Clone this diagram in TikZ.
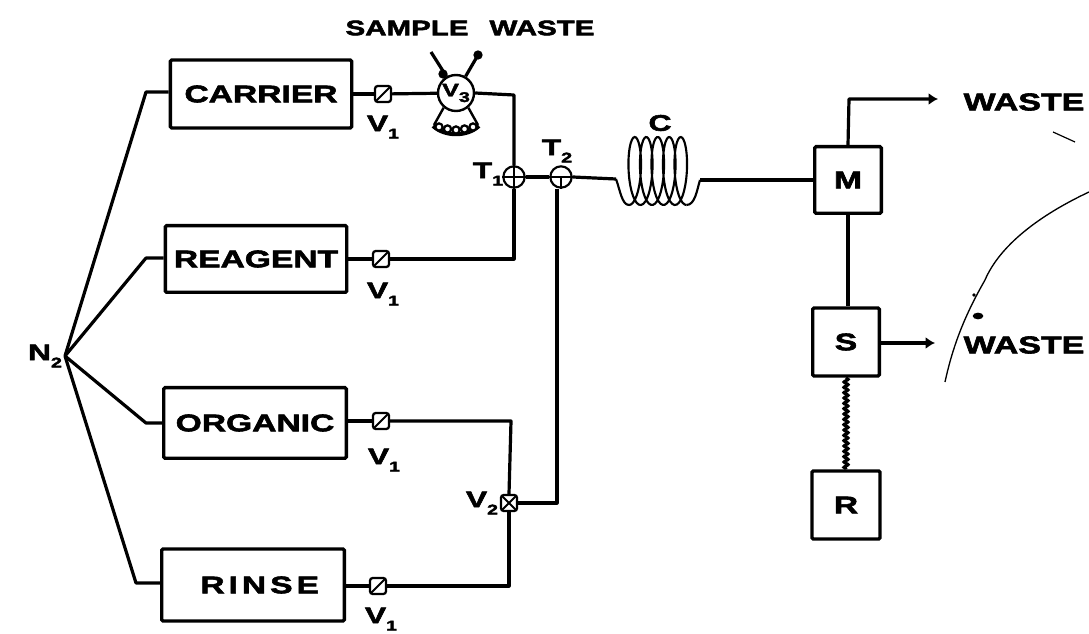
\documentclass[tikz,border=0pt]{standalone}
\usepackage{fontspec}
\setmainfont[FakeStretch=1.4,BoldFont={Liberation Sans Bold},BoldFeatures={FakeStretch=1.4,FakeBold=2.5}]{Liberation Sans}
\usetikzlibrary{decorations.pathmorphing,arrows.meta,calc}
\tikzset{
  line/.style={line width=2.4pt,line join=round},
  box/.style={draw,line width=2.5pt,rounded corners=1pt,minimum width=#1,inner sep=0pt,font=\bfseries\fontsize{18}{19}\selectfont},
  lab/.style={font=\bfseries\fontsize{17}{18}\selectfont,inner sep=0pt},
  toplab/.style={font=\bfseries\fontsize{15.8}{17}\selectfont,inner sep=0pt},
  bigl/.style={font=\bfseries\fontsize{18.2}{19}\selectfont,inner sep=0pt},
  valveone/.style={draw,fill=white,line width=1.7pt,rounded corners=2pt,minimum size=12pt,inner sep=0pt,
    path picture={\draw[line width=1.5pt](path picture bounding box.south west)--(path picture bounding box.north east);}},
  valvetwo/.style={draw,fill=white,line width=1.7pt,rounded corners=2pt,minimum size=12pt,inner sep=0pt,
    path picture={\draw[line width=1.5pt](path picture bounding box.south west)--(path picture bounding box.north east)
    (path picture bounding box.north west)--(path picture bounding box.south east);}},
  tee/.style={draw,circle,fill=white,line width=1.6pt,minimum size=16pt,inner sep=0pt},
  arr/.style={line,-{Latex[length=7pt,width=9pt]}},
}
\newcommand{\sub}[1]{\raisebox{-0.6ex}{\fontsize{10.5}{11}\selectfont #1}}
\begin{document}
\begin{tikzpicture}[x=0.75pt,y=-0.75pt]
\useasboundingbox (0,0) rectangle (1089,634);
% boxes
\node[box=136pt,minimum height=51pt] (carrier) at (261,94) {CARRIER};
\node[box=136pt,minimum height=50pt] (reagent) at (256,259) {REAGENT};
\node[box=137pt,minimum height=53pt] (organic) at (255,423) {ORGANIC};
\node[box=137pt,minimum height=54pt] (rinse) at (253,585) {\hspace*{10pt}R\,I\,N\,S\,E};
\node[box=50pt,minimum height=50pt] (m) at (848,180) {M};
\node[box=50pt,minimum height=51pt] (s) at (846,342) {S};
\node[box=51pt,minimum height=51pt] (r) at (846,505) {R};
% N2
\node[lab] (n2) at (45,356) {N\sub{2}};
\coordinate (fan) at (65,356);
\coordinate (fa) at (146,92);
\coordinate (fb) at (146,258);
\coordinate (fc) at (146,423);
\coordinate (fd) at (136,583);
\draw[line] (fan) -- (fa) -- (fa-|carrier.west);
\draw[line] (fan) -- (fb) -- (fb-|reagent.west);
\draw[line] (fan) -- (fc) -- (organic.west);
\draw[line] (fan) -- (fd) -- (fd-|rinse.west);
% junctions
\node[tee] (t1) at (514,177) {};
\node[tee] (t2) at (561,177) {};
\node[valvetwo] (v2) at (509,503) {};
\node[valveone] (a) at (383,94) {};
\node[valveone] (b) at (381,259) {};
\node[valveone] (c) at (381,421) {};
\node[valveone] (d) at (378,586) {};
\node[draw,circle,fill=white,line width=1.8pt,minimum size=27pt,inner sep=0pt] (v3) at (456,93) {};
% connectors
\draw[line] (a-|carrier.east) -- (a);
\draw[line] (b-|reagent.east) -- (b);
\draw[line] (c-|organic.east) -- (c);
\draw[line] (d-|rinse.east) -- (d);
\draw[line] (a) -- (v3);
\coordinate (ca) at (514,95);
\coordinate (cb) at (514,259);
\coordinate (cc) at (511,421);
\coordinate (cd) at (509,586);
\coordinate (ce) at (557,503);
\draw[line] (v3.east) -- (ca) -- (t1.north);
\draw[line] (b) -- (cb) -- (t1.south);
\draw[line] (c) -- (cc) -- (v2.north);
\draw[line] (d) -- (cd) -- (v2.south);
\draw[line] (v2.east) -- (ce) -- (ce|-t2.south);
\draw[line] (t1) -- (t2);
\draw[line width=1.5pt] (t1.north) -- (t1.south) (t1.west) -- (t1.east);
\draw[line width=1.5pt] (t2.west) -- (t2.east) (t2.center) -- (t2.south);
% coil
\coordinate (coilin) at (616,179);
\coordinate (coilout) at (700,180);
\draw[line] (t2.east) -- (coilin);
\draw[line width=1.6pt] (coilin) .. controls (620,190) and (622,205) .. (629,205);
\draw[line width=1.6pt] plot[smooth,samples=160,domain=0:1800,variable=\t] ({629+\t/360*11.5+9*sin(\t)},{171+34*cos(\t)});
\draw[line width=1.6pt] (686.5,205) .. controls (695,205) and (697,190) .. (coilout);
\draw[line] (coilout) -- (coilout-|m.west);
% v3 internals
\node[font=\bfseries\fontsize{13.5}{14}\selectfont,inner sep=0pt] (v3lab) at (456,93) {V\sub{3}};
\coordinate (sampleend) at (431,52);
\coordinate (wasteend) at (478,55);
\draw[line] (sampleend) -- (v3.120);
\draw[line] (wasteend) -- (v3.60);
\fill (443,74) circle (3.5pt);
\fill (478,55) circle (3.5pt);
\draw[line width=1.8pt] (v3.230) -- (434,125) (v3.310) -- (478,125);
\draw[line width=3pt] (433,126) .. controls (445,137) and (467,137) .. (479,126);
\foreach \i/\yy in {0/127,1/129,2/130,3/129,4/127}{\draw[line width=1.7pt,fill=white] ({439+\i*8.5},\yy) circle (2.7pt);}
% right side
\coordinate (w1) at (938,99);
\coordinate (w2) at (935,343);
\coordinate (mup) at (849,99);
\draw[arr] (m.north) -- (mup) -- (w1);
\draw[arr] (w2-|s.east) -- (w2);
\draw[line] (m.south) -- (s.north-|m.south);
\draw[line width=2.2pt,decorate,decoration={snake,segment length=4pt,amplitude=1.6pt}] (s.south) -- (r.north);
% labels
\node[toplab] (samplewaste) at (470,28) {SAMPLE\hspace{1.0em}WASTE};
\node[bigl] (l1) at (1024,102) {WASTE};
\node[bigl] (l2) at (1024,345) {WASTE};
\node[lab] (la) at (383,127) {V\sub{1}};
\node[lab] (lb) at (383,294) {V\sub{1}};
\node[lab] (lc) at (384,460) {V\sub{1}};
\node[lab] (ld) at (381,619) {V\sub{1}};
\node[lab] (lv) at (482,503) {V\sub{2}};
\node[lab] (lt) at (488,174) {T\sub{1}};
\node[lab] (lu) at (557,151) {T\sub{2}};
\node[lab] (lcc) at (660,123) {C};
% stray pen marks on the scan
\draw[line width=1pt] (1089,192) .. controls (1040,215) and (1000,245) .. (985,280) .. controls (965,315) and (953,345) .. (945,382);
\draw[line width=0.9pt] (1053,132) -- (1075,142);
\fill (978,316) ellipse (4pt and 2.5pt);
\fill (974,295) circle (1.4pt);
\end{tikzpicture}
\end{document}
